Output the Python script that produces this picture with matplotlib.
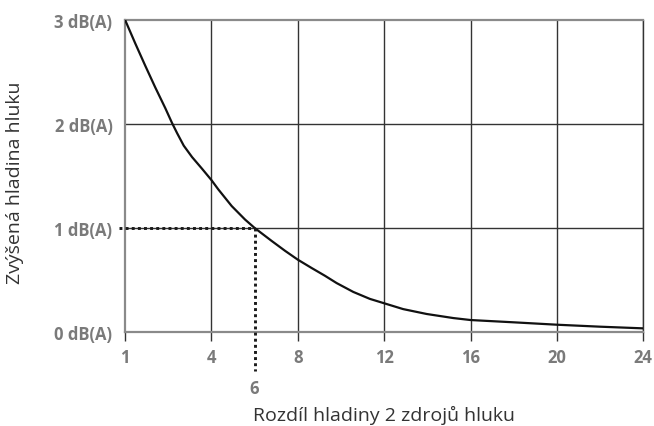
import numpy as np
import matplotlib.pyplot as plt

plt.rcParams['font.family'] = ['Open Sans', 'DejaVu Sans']

# data
rozdil = [1, 1.36, 1.70, 2.05, 2.40, 2.63, 2.81, 3.04, 3.33, 3.67, 4.0, 4.32, 4.94, 5.56, 6,
          6.79, 7.41, 8, 8.64, 9.26, 9.80, 10.57, 11.34, 12, 12.88, 13.97, 15.2, 16, 18, 20, 22, 24]
zvyseni = [3.0, 2.77, 2.56, 2.35, 2.15, 2.01, 1.91, 1.79, 1.68, 1.57, 1.46, 1.37, 1.21, 1.08, 1.0,
           0.875, 0.78, 0.695, 0.615, 0.54, 0.47, 0.385, 0.318, 0.276, 0.22, 0.173, 0.134, 0.115, 0.093, 0.07, 0.051, 0.035]
x_ticks = [1, 4, 8, 12, 16, 20, 24]
y_ticks = [0, 1, 2, 3]
y_labels = ['0 dB(A)', '1 dB(A)', '2 dB(A)', '3 dB(A)']
oznaceni_x, oznaceni_y = 6, 1

grid_c = '#333333'
axis_c = '#8a8a8a'
text_c = '#7a7a7a'


# osa x: 1..4 ma stejnou sirku jako 4..8 atd.
def fwd(x):
    x = np.asarray(x, dtype=float)
    return np.where(x < 4, (x - 1) / 3, x / 4)


def inv(p):
    p = np.asarray(p, dtype=float)
    return np.where(p < 1, 1 + 3 * p, 4 * p)


fig = plt.figure(figsize=(6.54, 4.27), dpi=100)
ax = fig.add_axes([125 / 654, 1 - 333 / 427, 518.3 / 654, 312.3 / 427])
ax.set_xscale('function', functions=(fwd, inv))
ax.set_xlim(1, 24)
ax.set_ylim(0, 3)

ax.set_xticks(x_ticks)
ax.set_xticklabels([str(t) for t in x_ticks])
ax.set_yticks(y_ticks)
ax.set_yticklabels(y_labels)
ax.xaxis.set_minor_locator(plt.NullLocator())

for t in x_ticks[1:]:
    ax.axvline(t, color=grid_c, lw=1.0, zorder=1)
for t in y_ticks[1:3]:
    ax.axhline(t, color=grid_c, lw=1.0, zorder=1)

for s in ['left', 'bottom', 'top']:
    ax.spines[s].set_color(axis_c)
    ax.spines[s].set_linewidth(1.6)
ax.spines['right'].set_color(grid_c)
ax.spines['right'].set_linewidth(1.0)

ax.tick_params(axis='x', direction='out', length=6.3, width=1.0, color=grid_c, pad=5,
               labelsize=12, labelcolor=text_c)
ax.tick_params(axis='y', length=0, pad=9, labelsize=12, labelcolor=text_c)
for lab in ax.get_xticklabels() + ax.get_yticklabels():
    lab.set_fontweight('bold')

ax.plot(rozdil, zvyseni, color='#111111', lw=1.6, zorder=3)

# tečkované čáry k bodu 6 / 1 dB
ax.plot([0.79, oznaceni_x], [oznaceni_y, oznaceni_y], color='#1a1a1a', lw=2.1,
        dashes=(1, 1.1), clip_on=False, zorder=4)
ax.plot([oznaceni_x, oznaceni_x], [oznaceni_y, -0.37], color='#1a1a1a', lw=2.1,
        dashes=(1, 1.1), clip_on=False, zorder=4)
ax.text(oznaceni_x, -0.537, '6', ha='center', va='center', fontsize=12,
        fontweight='bold', color=text_c)

fig.text(384 / 654, 1 - 415 / 427, 'Rozdíl hladiny 2 zdrojů hluku', ha='center', va='center',
         fontsize=14, color='#333333')
fig.text(15 / 654, 1 - 183 / 427, 'Zvýšená hladina hluku', ha='center', va='center',
         rotation=90, fontsize=14, color='#333333')

fig.savefig('out.png', dpi=100)
